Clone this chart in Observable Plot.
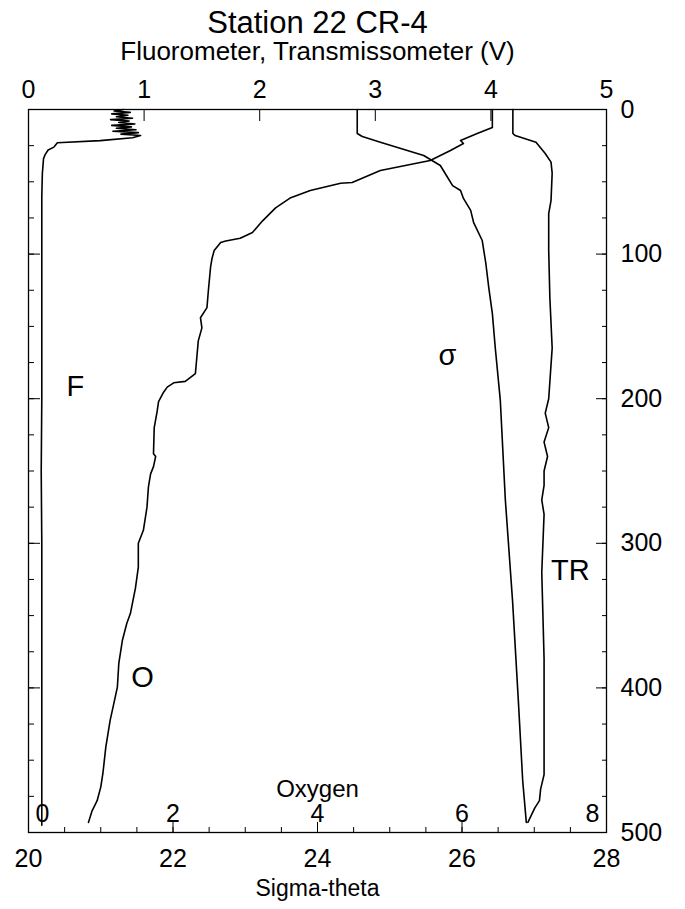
<!DOCTYPE html>
<html><head><meta charset="utf-8">
<script src="https://cdn.jsdelivr.net/npm/d3@7"></script>
<script src="https://cdn.jsdelivr.net/npm/@observablehq/plot@0.6"></script>
<style>body{margin:0;background:#fff;}</style>
</head><body><div id="chart"></div>
<script>
// ---- Data (depth in m) ----
const fluorDepth = [0,1,2,3,4,5,6,7,8,9,10,11,12,13,14,15,16,17,18,19.5,21.5,23,26,28,31,34,39,44,60,100,150,200,250,300,350,400,450,495];
const fluorV     = [0.82,0.74,0.88,0.72,0.86,0.76,0.90,0.71,0.87,0.78,0.92,0.72,0.89,0.76,0.93,0.73,0.95,0.80,0.97,0.90,0.62,0.25,0.22,0.17,0.145,0.13,0.125,0.12,0.115,0.115,0.115,0.115,0.11,0.115,0.115,0.115,0.115,0.115];

const transDepth = [0,16.6,18,22.6,30.4,36.4,44,63,72,97.5,130,165,200,210,220,230,240,250,260,270,280,300,320,350,380,400,420,440,460,470,478,483,488,493];
const transV     = [4.19,4.19,4.21,4.39,4.47,4.52,4.53,4.52,4.50,4.50,4.51,4.53,4.50,4.47,4.50,4.46,4.49,4.46,4.46,4.44,4.46,4.45,4.44,4.45,4.46,4.46,4.46,4.46,4.46,4.43,4.42,4.38,4.35,4.32];

const sigmaDepth = [0,16.6,18.7,22.6,31.8,38.7,47.7,52.6,56,61.5,69.8,78,88.5,90.6,106.5,123,141,164.6,201,270,340,409,464,493];
const sigmaTheta = [24.55,24.55,24.62,24.87,25.47,25.70,25.81,25.87,25.98,26.02,26.12,26.16,26.26,26.28,26.33,26.37,26.42,26.46,26.53,26.60,26.70,26.78,26.84,26.89];

const oxyDepth = [0,12.4,16.6,21.4,23.5,28.4,35.3,42.2,50.5,51,56,61,68,77,85,89,91,92,97.5,103,109,125,137,144,151,160,182.6,188,189,192,195.5,202,209,220,238,240,247,252,261,275,291,300,316.5,331,348.6,355.5,367,383,399.5,411,422.5,441,459,468.6,478,485,493];
const oxygen   = [6.42,6.42,6.21,5.98,6.02,5.84,5.56,4.87,4.48,4.32,3.90,3.63,3.42,3.24,3.10,2.93,2.73,2.66,2.57,2.54,2.52,2.49,2.47,2.38,2.40,2.35,2.31,2.17,2.01,1.92,1.87,1.80,1.78,1.74,1.73,1.76,1.73,1.69,1.66,1.64,1.59,1.52,1.52,1.48,1.41,1.36,1.30,1.25,1.23,1.18,1.13,1.07,1.03,1.00,0.95,0.88,0.83];

// ---- Axes ----
const sigmaTicks = [20,22,24,26,28];
const sigmaMinor = d3.range(20,28.001,0.5);
const voltTicks  = [0,1,2,3,4,5];
const oxyTicks   = [0,2,4,6,8];
const depthTicks = [0,100,200,300,400,500];
const depthMinor = d3.range(0,501,25);

const curveLabels = ["F","σ","TR","O"];
const labelSigma  = [20.65,25.80,27.50,21.58];
const labelDepth  = [192,170,319,393];

// mapping of the secondary quantities onto the shared (sigma-theta) x scale
const vToX = v => 20 + v*1.6;
const oToX = o => 20 + o;

const rows = [
  ...fluorDepth.map((d,i)=>({s:"F", depth:d, x:vToX(fluorV[i])})),
  ...transDepth.map((d,i)=>({s:"TR", depth:d, x:vToX(transV[i])})),
  ...sigmaDepth.map((d,i)=>({s:"sigma", depth:d, x:sigmaTheta[i]})),
  ...oxyDepth.map((d,i)=>({s:"O", depth:d, x:oToX(oxygen[i])}))
];
const labels = curveLabels.map((t,i)=>({t, x:labelSigma[i], depth:labelDepth[i]}));

const font = "Liberation Sans, Arial, Helvetica, sans-serif";
const TICK_FS = 25;

const chart = Plot.plot({
  width: 685, height: 909,
  marginLeft: 28, marginRight: 79, marginTop: 109, marginBottom: 77,
  style: {fontFamily: font, background: "white", color: "black", overflow: "visible"},
  x: {domain: [20,28], axis: null},
  y: {domain: [0,500], reverse: true, axis: null},
  marks: [
    Plot.frame({stroke: "black", strokeWidth: 1.3}),
    Plot.line(rows, {x: "x", y: "depth", z: "s", stroke: "black", strokeWidth: 1.6}),
    // bottom sigma-theta axis
    Plot.axisX(sigmaMinor, {anchor: "bottom", tickSize: -5, tickFormat: () => "", label: null}),
    Plot.axisX(sigmaTicks, {anchor: "bottom", tickSize: -10, tickFormat: () => "", label: null}),
    Plot.axisX(sigmaTicks, {anchor: "bottom", tickSize: 0, tickPadding: 26, lineAnchor: "middle", fontSize: TICK_FS, tickFormat: d => String(d), label: null}),
    // top voltage axis
    Plot.axisX(voltTicks.map(vToX), {anchor: "top", tickSize: -11, tickFormat: () => "", label: null}),
    Plot.axisX(voltTicks.map(vToX), {anchor: "top", tickSize: 0, tickPadding: 20, lineAnchor: "middle", fontSize: TICK_FS, tickFormat: (d,i) => String(voltTicks[i]), label: null}),
    // inner oxygen labels
    Plot.axisX(oxyTicks.slice(1,4).map(oToX), {anchor: "bottom", tickSize: 0, tickPadding: -19, lineAnchor: "middle", fontSize: TICK_FS, tickFormat: d => String(Math.round(d-20)), label: null}),
    Plot.axisX([oToX(0)], {anchor: "bottom", tickSize: 0, tickPadding: -19, lineAnchor: "middle", textAnchor: "start", dx: 7, fontSize: TICK_FS, tickFormat: () => "0", label: null}),
    Plot.axisX([oToX(8)], {anchor: "bottom", tickSize: 0, tickPadding: -19, lineAnchor: "middle", textAnchor: "end", dx: -7, fontSize: TICK_FS, tickFormat: () => "8", label: null}),
    // depth axes
    Plot.axisY(depthMinor, {anchor: "right", tickSize: -5, tickFormat: () => "", label: null}),
    Plot.axisY(depthTicks, {anchor: "right", tickSize: -11, tickFormat: () => "", label: null}),
    Plot.axisY(depthTicks, {anchor: "right", tickSize: 0, tickPadding: 14, fontSize: TICK_FS, label: null}),
    Plot.axisY(depthMinor, {anchor: "left", tickSize: -6, tickFormat: () => "", label: null}),
    Plot.axisY(depthTicks, {anchor: "left", tickSize: -12, tickFormat: () => "", label: null}),
    // titles
    Plot.text(["Station 22 CR-4"], {frameAnchor: "top", lineAnchor: "middle", dy: -86, fontSize: 31}),
    Plot.text(["Fluorometer, Transmissometer (V)"], {frameAnchor: "top", lineAnchor: "middle", dy: -58, fontSize: 26}),
    Plot.text(["Sigma-theta"], {frameAnchor: "bottom", lineAnchor: "middle", dy: 56, fontSize: 23}),
    Plot.text(["Oxygen"], {frameAnchor: "bottom", lineAnchor: "middle", dy: -43, fontSize: 24}),
    // curve labels
    Plot.text(labels, {x: "x", y: "depth", text: "t", fontSize: 29})
  ]
});
document.getElementById("chart").appendChild(chart);
</script>
</body></html>
